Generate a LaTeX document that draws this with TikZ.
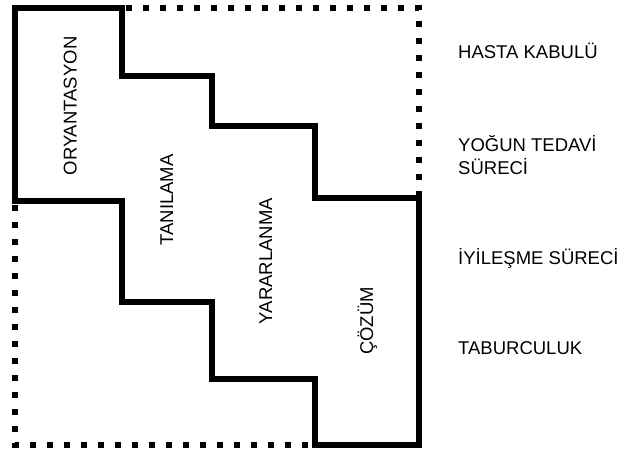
\documentclass[tikz,border=0pt]{standalone}
\usepackage{fontspec}
\setmainfont{Liberation Sans}
\begin{document}
\begin{tikzpicture}[x=1pt,y=-1pt,
  solidline/.style={line width=5.5pt,line join=miter,line cap=butt},
  dotline/.style={line width=5.5pt,dash pattern=on 6pt off 11pt},
  vlabel/.style={rotate=90,anchor=base,inner sep=0pt,font=\fontsize{18.5}{22}\selectfont},
  rlabel/.style={anchor=base west,inner sep=0pt,font=\fontsize{18.5}{23}\selectfont}]
\useasboundingbox (0,0) rectangle (625,455);
% solid staircase outline
\draw[solidline] (15,201) -- (15,8) -- (122,8) -- (122,76) -- (212,76) -- (212,126)
  -- (315,126) -- (315,198) -- (419,198) -- (419,445) -- (315,445) -- (315,379)
  -- (212,379) -- (212,302) -- (122,302) -- (122,201) -- cycle;
% dotted frame parts
\draw[dotline] (126,8) -- (419,8) -- (419,195);
\draw[dotline] (15,205) -- (15,445) -- (312,445);
% phase labels inside
\node[vlabel] (ory) at (76.5,106) {ORYANTASYON};
\node[vlabel] (tan) at (173,200) {TANILAMA};
\node[vlabel] (yar) at (272,261) {YARARLANMA};
\node[vlabel] (coz) at (373,321) {ÇÖZÜM};
% right labels
\node[rlabel] (hk) at (458,59) {HASTA KABULÜ};
\node[rlabel] (yt1) at (458,151) {YOĞUN TEDAVİ};
\node[rlabel] (yt2) at (458,174) {SÜRECİ};
\node[rlabel] (iy) at (458,264) {İYİLEŞME SÜRECİ};
\node[rlabel] (tb) at (458,354) {TABURCULUK};
\end{tikzpicture}
\end{document}
